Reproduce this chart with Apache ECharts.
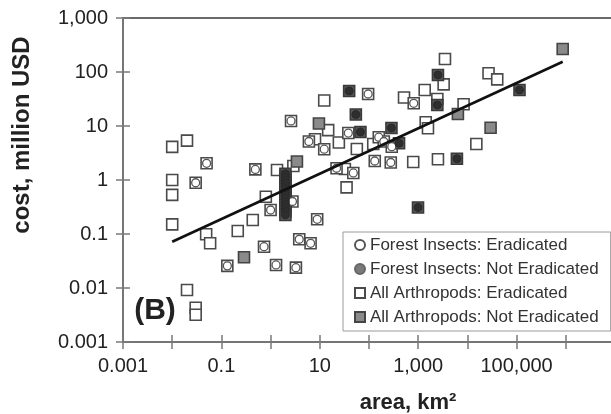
<!DOCTYPE html>
<html><head><meta charset="utf-8">
<script src="https://cdn.jsdelivr.net/npm/echarts@6/dist/echarts.min.js"></script>
<style>html,body{margin:0;padding:0;background:#fff}#c{width:611px;height:414px}</style>
</head><body><div id="c"></div>
<script>
// tick labels by decade exponent
const xTickLabels = ['0.001','','0.1','','10','','1,000','','100,000','',''];   // 1e-3 .. 1e7
const yTickLabels = ['0.001','0.01','0.1','1','10','100','1,000'];            // 1e-3 .. 1e3

// All arthropods, eradicated (not forest insects)
const arthEradicatedOther = [
  [0.01,4.1],[0.02,5.35],[1.35,1.53],[2.9,1.82],[12.3,29.7],[14.8,8.4],[8,5.7],[24.4,4.95],
  [56.6,3.75],[32.3,1.6],[35,0.73],[3500,174],[3290,59],[26900,94.6],[40400,73],[515,33.7],
  [1355,46.4],[2450,31.6],[8370,25.2],[1420,11.7],[1580,9.06],[122,4.64],[15200,4.64],[792,2.15],
  [2520,2.42],[0.01,1.0],[0.01,0.53],[0.01,0.151],[0.8,0.49],[0.434,0.182],[0.215,0.114],
  [0.049,0.0987],[0.059,0.0673],[0.02,0.0092],[0.03,0.0043],[0.03,0.0032]
];
// Forest insects, eradicated
const forestEradicated = [
  [38,7.4],[158,6.2],[200,5.16],[290,4.14],[131,2.25],[277,2.11],[48,1.35],[2.78,0.40],
  [8.85,0.187],[0.49,1.57],[21.9,1.65],[2.6,12.4],[96,39.1],[811,26.3],[12.3,3.72],[0.03,0.89],
  [0.05,2.04],[1.0,0.278],[3.82,0.080],[6.5,0.0673],[0.735,0.0582],[0.132,0.0257],[1.29,0.0267],
  [3.27,0.0238],[6.0,5.16]
];
// All arthropods, not eradicated (not forest insects)
const arthNotEradicatedOther = [
  [865000,267],[9.6,11.1],[6410,16.7],[29600,9.3],[3.43,2.2],[0.288,0.037]
];
// Forest insects, not eradicated
const forestNotEradicated = [
  [39.5,44.5],[54,16.3],[67,7.74],[286,9.2],[408,4.78],[2520,88],[2450,24.5],[114500,46.4],
  [6120,2.48],[991,0.31],
  [2,1.3],[2,1.15],[2,1.0],[2,0.88],[2,0.78],[2,0.68],[2,0.6],[2,0.52],[2,0.46],[2,0.4],
  [2,0.35],[2,0.3],[2,0.26],[2,0.225]
];
// fitted trend line end points
const trendLine = [[0.01,0.072],[865000,155]];

const FONT = '"Liberation Sans", Arial, Helvetica, sans-serif';
const AX = '#7a7a7a';

function expOf(v){ return Math.round(Math.log10(v)); }

const chart = echarts.init(document.getElementById('c'), null, {renderer:'canvas'});

const baseX = {type:'log', logBase:10, min:0.001, max:1e7, splitNumber:10, interval:1, gridIndex:0, position:'bottom'};
const baseY = {type:'log', logBase:10, min:0.001, max:1000, splitNumber:6, gridIndex:0, position:'left'};

const NOT_ERAD = 'All Arthropods: Not Eradicated';

chart.setOption({
  animation:false,
  backgroundColor:'#fff',
  grid:{left:123, top:18, right:-4, bottom:72, show:true, borderColor:'#6a6a6a', borderWidth:2,
        backgroundColor:'transparent', containLabel:false, outerBoundsMode:'none'},
  xAxis:[
    Object.assign({}, baseX, {
      axisLine:{show:true, lineStyle:{color:AX, width:1.6}},
      axisTick:{show:true, inside:false, length:7, lineStyle:{color:AX, width:1.5}},
      axisLabel:{margin:14, fontSize:20, color:'#222', fontFamily:FONT, showMinLabel:true, showMaxLabel:true,
        formatter:v => xTickLabels[expOf(v)+3] || ''},
      splitLine:{show:false}
    }),
    Object.assign({}, baseX, {
      axisLine:{show:false},
      axisTick:{show:true, inside:true, length:7, lineStyle:{color:AX, width:1.5}},
      axisLabel:{show:false}, splitLine:{show:false}
    })
  ],
  yAxis:[
    Object.assign({}, baseY, {
      axisLine:{show:true, lineStyle:{color:AX, width:1.6}},
      axisTick:{show:true, inside:false, length:7, lineStyle:{color:AX, width:1.5}},
      axisLabel:{margin:15, fontSize:20, color:'#222', fontFamily:FONT, showMinLabel:true, showMaxLabel:true,
        formatter:v => yTickLabels[expOf(v)+3] || ''},
      splitLine:{show:false}
    }),
    Object.assign({}, baseY, {
      axisLine:{show:false},
      axisTick:{show:true, inside:true, length:7, lineStyle:{color:AX, width:1.5}},
      axisLabel:{show:false}, splitLine:{show:false}
    })
  ],
  legend:{
    orient:'vertical', left:343, top:232,
    backgroundColor:'#fff', borderColor:'#9a9a9a', borderWidth:1,
    padding:[3,12,4,11], itemGap:4, itemWidth:10, itemHeight:10,
    textStyle:{fontSize:17, lineHeight:20, color:'#333', fontFamily:FONT},
    data:[
      {name:'Forest Insects: Eradicated'},
      {name:'Forest Insects: Not Eradicated', itemStyle:{color:'#7a7a7a', borderColor:'#666'}},
      {name:'All Arthropods: Eradicated'},
      {name:NOT_ERAD, itemStyle:{color:'#8a8a8a', borderColor:'#444'}}
    ]
  },
  series:[
    {name:'All Arthropods: Eradicated', type:'scatter', xAxisIndex:0, yAxisIndex:0,
     symbol:'rect', symbolSize:11, silent:true,
     itemStyle:{color:'#fff', borderColor:'#4a4a4a', borderWidth:1.6, opacity:1},
     data: arthEradicatedOther.concat(forestEradicated)},
    {name:NOT_ERAD, type:'scatter', xAxisIndex:0, yAxisIndex:0,
     symbol:'rect', symbolSize:11, silent:true,
     itemStyle:{color:'#8a8a8a', borderColor:'#444', borderWidth:1.6, opacity:1},
     data: arthNotEradicatedOther},
    {name:NOT_ERAD, type:'scatter', xAxisIndex:0, yAxisIndex:0,
     symbol:'rect', symbolSize:11, silent:true,
     itemStyle:{color:'#5a5a5a', borderColor:'#3a3a3a', borderWidth:1.6, opacity:1},
     data: forestNotEradicated},
    {name:'Forest Insects: Eradicated', type:'scatter', xAxisIndex:0, yAxisIndex:0,
     symbol:'circle', symbolSize:8, silent:true,
     itemStyle:{color:'#fff', borderColor:'#555', borderWidth:1.3, opacity:1},
     data: forestEradicated},
    {name:'Forest Insects: Not Eradicated', type:'scatter', xAxisIndex:0, yAxisIndex:0,
     symbol:'circle', symbolSize:8, silent:true,
     itemStyle:{color:'#2e2e2e', borderColor:'#2a2a2a', borderWidth:1, opacity:1},
     data: forestNotEradicated},
    {name:'trend', type:'line', xAxisIndex:0, yAxisIndex:0, showSymbol:false, silent:true, z:5,
     lineStyle:{color:'#111', width:2.6}, data: trendLine}
  ],
  graphic:[
    {type:'text', x:22, y:135, rotation:Math.PI/2, silent:true,
     style:{text:'cost, million USD', font:'bold 24px ' + FONT, fill:'#222',
            align:'center', verticalAlign:'middle', textAlign:'center', textVerticalAlign:'middle'}},
    {type:'text', x:408, y:403, silent:true,
     style:{text:'area, km²', font:'bold 22px ' + FONT, fill:'#222',
            align:'center', verticalAlign:'middle', textAlign:'center', textVerticalAlign:'middle'}},
    {type:'text', x:155, y:311, silent:true,
     style:{text:'(B)', font:'bold 30px ' + FONT, fill:'#222',
            align:'center', verticalAlign:'middle', textAlign:'center', textVerticalAlign:'middle'}}
  ]
});
</script></body></html>
